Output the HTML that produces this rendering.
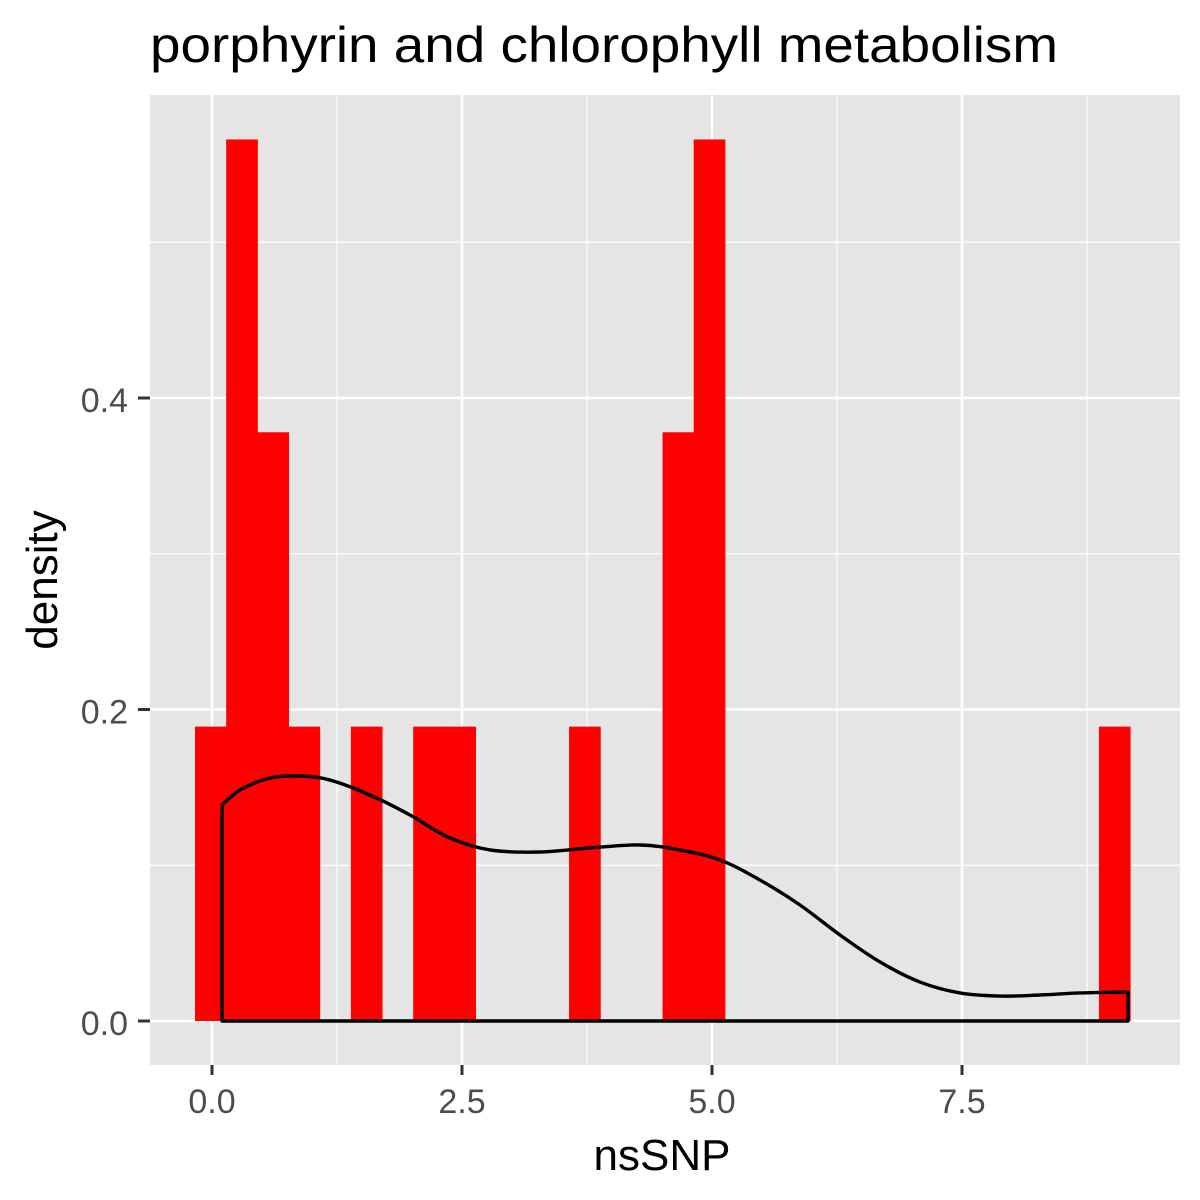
<!DOCTYPE html>
<html><head><meta charset="utf-8"><style>
html,body{margin:0;padding:0;background:#fff;}
svg{display:block;font-family:"Liberation Sans",Arial,sans-serif;}
</style></head><body>
<svg id="chart" width="1200" height="1200" viewBox="0 0 1200 1200">
<rect width="1200" height="1200" fill="#fff"/>
<text x="150" y="62" font-size="50" fill="#000" textLength="908" lengthAdjust="spacingAndGlyphs">porphyrin and chlorophyll metabolism</text>
<rect x="150" y="95" width="1030" height="970" fill="#e5e5e5"/>
<g id="grid"></g>
<g id="bars"></g>
<g id="curve"></g>
<g id="axes"></g>
<text x="662" y="1170" font-size="44" text-anchor="middle" fill="#000">nsSNP</text>
<text transform="translate(57,580) rotate(-90)" font-size="44" text-anchor="middle" fill="#000">density</text>
</svg>
<script>
const binStart = -0.17;
const binWidth = 0.3117;
const binDensity = [0.189,0.566,0.378,0.189,0,0.189,0,0.189,0.189,0,0,0,0.189,0,0,0.378,0.566,0,0,0,0,0,0,0,0,0,0,0,0,0.189];
const curveX = [0.10,0.28,0.58,0.88,1.18,1.58,1.98,2.38,2.78,3.28,3.78,4.28,4.68,5.08,5.48,5.88,6.28,6.68,7.08,7.48,7.88,8.28,8.68,9.16];
const curveY = [0.1387,0.1483,0.156,0.1573,0.1547,0.1451,0.1323,0.1175,0.1098,0.1085,0.1111,0.113,0.1098,0.1034,0.0905,0.0745,0.0552,0.0379,0.025,0.018,0.016,0.0167,0.018,0.0186];
const xTicks = [0, 2.5, 5, 7.5];
const xTickLabels = ["0.0","2.5","5.0","7.5"];
const xMinor = [1.25, 3.75, 6.25, 8.75];
const yTicks = [0, 0.2, 0.4];
const yTickLabels = ["0.0","0.2","0.4"];
const yMinor = [0.1, 0.3, 0.5];

const NS = "http://www.w3.org/2000/svg";
const sx = v => 212 + v * 100;
const sy = v => 1021 - v * 1557.5;
function mk(tag, attrs, parent){ const e=document.createElementNS(NS,tag); for(const k in attrs) e.setAttribute(k,attrs[k]); parent.appendChild(e); return e; }
const grid=document.getElementById('grid'), bars=document.getElementById('bars'), curve=document.getElementById('curve'), axes=document.getElementById('axes');

xMinor.forEach(v=>{ const l=mk('line',{x1:sx(v),x2:sx(v),y1:95,y2:1065,stroke:'#fff','stroke-width':1.2},grid);

 });
yMinor.forEach(v=>{ const l=mk('line',{x1:150,x2:1180,y1:sy(v),y2:sy(v),stroke:'#fff','stroke-width':1.2},grid);

 });
xTicks.forEach((v,i)=>{ const l=mk('line',{x1:sx(v),x2:sx(v),y1:95,y2:1065,stroke:'#fff','stroke-width':2.5},grid);


const t=mk('line',{x1:sx(v),x2:sx(v),y1:1065,y2:1075,stroke:'#333','stroke-width':3},axes);


const tx=mk('text',{x:sx(v),y:1113,'font-size':34,'text-anchor':'middle',fill:'#4d4d4d'},axes); tx.textContent=xTickLabels[i];

 });
yTicks.forEach((v,i)=>{ const l=mk('line',{x1:150,x2:1180,y1:sy(v),y2:sy(v),stroke:'#fff','stroke-width':2.5},grid);


const t=mk('line',{x1:138,x2:150,y1:sy(v),y2:sy(v),stroke:'#333','stroke-width':3},axes);


const tx=mk('text',{x:128,y:sy(v)+14,'font-size':34,'text-anchor':'end',fill:'#4d4d4d'},axes); tx.textContent=yTickLabels[i];

 });

binDensity.forEach((d,i)=>{ if(d<=0) return;
const x0=sx(binStart+i*binWidth), x1=sx(binStart+(i+1)*binWidth);
const r=mk('rect',{x:x0,y:sy(d),width:x1-x0+0.5,height:sy(0)-sy(d),fill:'#ff0000'},bars);

 });

const pts = curveX.map((x,i)=>[sx(x), sy(curveY[i])]);
let dstr = 'M'+pts[0][0]+','+sy(0)+' L'+pts[0][0]+','+pts[0][1];
for(let i=0;i<pts.length-1;i++){
  const p0=pts[Math.max(0,i-1)], p1=pts[i], p2=pts[i+1], p3=pts[Math.min(pts.length-1,i+2)];
  const c1=[p1[0]+(p2[0]-p0[0])/6, p1[1]+(p2[1]-p0[1])/6];
  const c2=[p2[0]-(p3[0]-p1[0])/6, p2[1]-(p3[1]-p1[1])/6];
  dstr += ' C'+c1[0]+','+c1[1]+' '+c2[0]+','+c2[1]+' '+p2[0]+','+p2[1];
}
dstr += ' L'+pts[pts.length-1][0]+','+sy(0)+' Z';
const p=mk('path',{d:dstr,fill:'none',stroke:'#000','stroke-width':3.4,'stroke-linejoin':'round'},curve);


</script>
</body></html>
